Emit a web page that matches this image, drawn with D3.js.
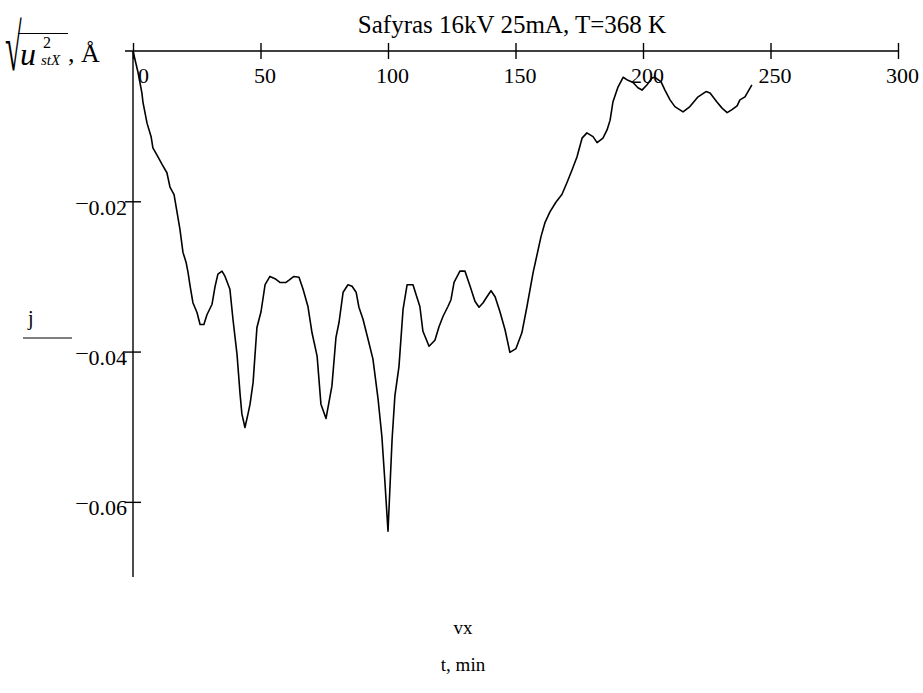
<!DOCTYPE html>
<html>
<head>
<meta charset="utf-8">
<script src="https://cdn.jsdelivr.net/npm/d3@7"></script>
<style>
  body { margin: 0; background: #fff; }
  svg { display: block; }
  text { font-family: "Liberation Serif", "Times New Roman", serif; fill: #000; }
</style>
</head>
<body>
<svg id="chart" width="923" height="693"></svg>
<script>
// Time, minutes
const timeMin = [0, 2.0, 3.5, 3.9, 5.5, 7.1, 7.8, 9.8, 11.4, 13.3, 14.5, 16.1, 17.3, 18.4, 19.6, 20.8, 21.6, 22.4, 23.5, 25.1,
  26.3, 27.8, 29.0, 31.0, 32.2, 33.3, 34.9, 36.1, 38.0, 39.2, 40.8, 42.0, 42.7, 43.9, 45.1, 45.9, 47.1, 48.6, 50.2, 51.8,
  53.7, 55.7, 57.6, 60.0, 61.2, 63.1, 65.1, 66.7, 68.6, 70.2, 72.2, 73.7, 75.7, 78.0, 79.6, 80.8, 82.4, 84.3, 85.9, 87.5,
  88.6, 90.2, 92.2, 94.1, 96.1, 97.6, 98.8, 100.0, 101.6, 102.7, 104.3, 105.9, 107.5, 109.8, 111.0, 112.5, 113.7, 116.1, 118.4, 120.0,
  121.6, 123.5, 124.7, 125.9, 128.2, 130.2, 132.2, 134.1, 135.7, 137.3, 138.8, 140.4, 142.0, 143.9, 145.9, 147.8, 150.2, 152.5, 154.5, 156.9,
  160.0, 161.6, 163.5, 165.9, 168.2, 170.2, 172.2, 174.1, 176.1, 178.0, 180.4, 182.0, 184.3, 185.9, 187.1, 188.2, 190.2, 192.2, 194.1, 196.1,
  198.0, 199.6, 201.6, 203.5, 204.7, 207.1, 208.6, 210.6, 212.5, 215.7, 218.4, 221.6, 224.7, 226.3, 229.0, 231.0, 233.0, 234.9, 236.9, 238.0,
  240.0, 242.7];

// Root-mean-square displacement, Å
const uValues = [0, -0.0029, -0.0056, -0.0068, -0.0096, -0.0114, -0.0129, -0.0141, -0.0151, -0.0162, -0.0181, -0.0191, -0.0215, -0.0237, -0.0268, -0.0281, -0.0295, -0.0313, -0.0335, -0.0348,
  -0.0364, -0.0364, -0.0351, -0.0337, -0.0313, -0.0297, -0.0293, -0.0300, -0.0317, -0.0357, -0.0404, -0.0457, -0.0483, -0.0501, -0.0483, -0.0470, -0.0441, -0.0368, -0.0347, -0.0311,
  -0.0300, -0.0303, -0.0308, -0.0308, -0.0305, -0.0300, -0.0301, -0.0317, -0.0340, -0.0375, -0.0406, -0.0470, -0.0489, -0.0446, -0.0381, -0.0361, -0.0321, -0.0311, -0.0313, -0.0321,
  -0.0341, -0.0357, -0.0384, -0.0410, -0.0463, -0.0513, -0.0574, -0.0639, -0.0517, -0.0459, -0.0420, -0.0344, -0.0311, -0.0311, -0.0324, -0.0340, -0.0373, -0.0393, -0.0385, -0.0367,
  -0.0353, -0.0340, -0.0331, -0.0308, -0.0293, -0.0293, -0.0313, -0.0333, -0.0341, -0.0335, -0.0327, -0.0319, -0.0327, -0.0347, -0.0371, -0.0401, -0.0396, -0.0375, -0.0340, -0.0295,
  -0.0247, -0.0228, -0.0214, -0.0201, -0.0191, -0.0175, -0.0158, -0.0141, -0.0116, -0.0109, -0.0114, -0.0122, -0.0116, -0.0105, -0.0092, -0.0068, -0.0048, -0.0035, -0.0039, -0.0042,
  -0.0049, -0.0052, -0.0045, -0.0036, -0.0035, -0.0041, -0.0052, -0.0065, -0.0074, -0.0081, -0.0074, -0.0061, -0.0054, -0.0056, -0.0068, -0.0076, -0.0082, -0.0078, -0.0073, -0.0065,
  -0.0061, -0.0045];

const xTicks = [0, 50, 100, 150, 200, 250, 300];
const yTicks = [-0.02, -0.04, -0.06];
const chartTitle = "Safyras 16kV 25mA, T=368 K";
const xVarName = "vx";
const xAxisTitle = "t, min";
const yVarName = "j";

const serif = "'Liberation Serif', 'Times New Roman', serif";
const svg = d3.select("#chart");
const x = d3.scaleLinear().domain([0, 300]).range([133, 898]);
const y = d3.scaleLinear().domain([-0.07, 0]).range([577, 51]);
const tick = 8;

// Horizontal axis at value 0, ticks crossing the line, labels underneath
const gx = svg.append("g").attr("transform", `translate(0,${y(0)})`)
  .call(d3.axisBottom(x).tickValues(xTicks).tickSizeInner(tick).tickSizeOuter(0).tickFormat(d3.format("d")))
  .attr("font-family", serif).attr("font-size", 22);
gx.select(".domain").remove();
gx.append("line").attr("x1", x(0) - tick).attr("x2", x(300)).attr("y1", 0).attr("y2", 0)
  .attr("stroke", "#000").attr("stroke-width", 1.4);
gx.selectAll(".tick line").attr("y1", -tick).attr("y2", tick).attr("stroke", "#000").attr("stroke-width", 1.4);
gx.selectAll(".tick text")
  .attr("y", 32).attr("dy", null)
  .attr("dx", d => d === 0 ? 10 : 4)
  .style("font-size", "22px").style("font-family", serif);

// Vertical axis at time 0
const gy = svg.append("g").attr("transform", `translate(${x(0)},0)`)
  .call(d3.axisLeft(y).tickValues(yTicks).tickSizeInner(tick).tickSizeOuter(0).tickFormat(() => ""))
  .attr("font-family", serif).attr("font-size", 22);
gy.select(".domain").remove();
gy.append("line").attr("x1", 0).attr("x2", 0).attr("y1", y(0)).attr("y2", y(-0.07))
  .attr("stroke", "#000").attr("stroke-width", 1.4);
gy.selectAll(".tick line").attr("x1", -tick).attr("x2", tick).attr("stroke", "#000").attr("stroke-width", 1.4);
gy.selectAll(".tick text").each(function (d) {
  const t = d3.select(this).attr("x", -6).attr("y", 13).attr("dy", null)
    .style("font-size", "22px").style("font-family", serif);
  t.append("tspan").attr("dy", -6).text("–");
  t.append("tspan").attr("dy", 6).attr("dx", 1).text(d3.format(".2f")(Math.abs(d)));
});

// Data curve
const line = d3.line().x((d, i) => x(timeMin[i])).y(d => y(d));
svg.append("path").datum(uValues)
  .attr("d", line).attr("fill", "none").attr("stroke", "#000")
  .attr("stroke-width", 1.6).attr("stroke-linejoin", "round");

// Title
svg.append("text").attr("x", 512).attr("y", 33).attr("text-anchor", "middle")
  .style("font-size", "25px").text(chartTitle);

// Y quantity label: sqrt(u^2_stX), Å
const ql = svg.append("g");
ql.append("text").attr("transform", "translate(5,70) scale(0.8,1.75)")
  .style("font-size", "38px").text("√");
ql.append("line").attr("x1", 18).attr("x2", 68).attr("y1", 33.5).attr("y2", 33.5)
  .attr("stroke", "#000").attr("stroke-width", 1.2);
ql.append("text").attr("x", 20).attr("y", 65).style("font-size", "32px").style("font-style", "italic").text("u");
ql.append("text").attr("x", 43).attr("y", 48).style("font-size", "16px").text("2");
ql.append("text").attr("x", 41).attr("y", 65).style("font-size", "15px").style("font-style", "italic").text("stX");
ql.append("text").attr("x", 68).attr("y", 62).style("font-size", "26px").text(", Å");

// Variable name placeholders
svg.append("text").attr("x", 28).attr("y", 325).style("font-size", "20px").text(yVarName);
svg.append("line").attr("x1", 23).attr("x2", 72).attr("y1", 338).attr("y2", 338)
  .attr("stroke", "#000").attr("stroke-width", 1.2);
svg.append("text").attr("x", 463).attr("y", 634).attr("text-anchor", "middle")
  .style("font-size", "19px").text(xVarName);
svg.append("text").attr("x", 463).attr("y", 671).attr("text-anchor", "middle")
  .style("font-size", "19px").text(xAxisTitle);
</script>
</body>
</html>
